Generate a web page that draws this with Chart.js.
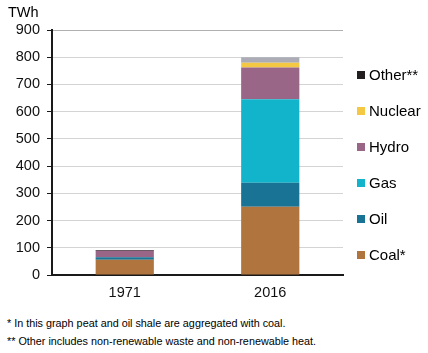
<!DOCTYPE html>
<html>
<head>
<meta charset="utf-8">
<script src="https://cdn.jsdelivr.net/npm/chart.js@4/dist/chart.umd.min.js"></script>
<style>
  body { margin: 0; background: #fff; font-family: "Liberation Sans", Arial, sans-serif; color: #000; }
  #wrap { position: relative; width: 428px; height: 353px; }
  #chart { position: absolute; left: 0; top: 0; }
  .unit { position: absolute; left: 8px; top: 4px; font-size: 14.5px; }
  .legend { position: absolute; left: 357px; font-size: 15px; line-height: 18px; white-space: nowrap; }
  .legend i { display: inline-block; width: 8px; height: 8px; margin-right: 4px; vertical-align: 1px; }
  .note { position: absolute; left: 7px; font-size: 10.8px; white-space: nowrap; }
</style>
</head>
<body>
<div id="wrap">
  <canvas id="chart" width="428" height="300"></canvas>
  <div class="unit">TWh</div>
  <div id="legend"></div>
  <div class="note" style="top:317px">* In this graph peat and oil shale are aggregated with coal.</div>
  <div class="note" style="top:335px">** Other includes non-renewable waste and non-renewable heat.</div>
</div>
<script>
// Данные (TWh)
const years = ['1971', '2016'];
const sources = ['Coal*', 'Oil', 'Gas', 'Hydro', 'Nuclear', 'Other**'];
const coal = [56, 251];
const oil = [9, 88];
const gas = [0, 307];
const hydro = [24, 116];
const nuclear = [0, 18];
const other = [3, 20];

const colors = ['#b0743e', '#187394', '#12b4cb', '#996688', '#f5c843', '#231f20'];
const values = [coal, oil, gas, hydro, nuclear, other];

const datasets = sources.map(function(name, i) {
    return {
        label: name,
        data: values[i],
        // у "Other" в 2016 серый цвет
        backgroundColor: name === 'Other**' ? ['#231f20', '#acacb6'] : colors[i],
        barPercentage: 0.4,
        categoryPercentage: 1
    };
});

// Легенда справа, сверху вниз в обратном порядке
const legendTop = [66, 102, 138, 174, 210, 246];
const legendEl = document.getElementById('legend');
sources.slice().reverse().forEach(function(name, k) {
    const idx = sources.length - 1 - k;
    const d = document.createElement('div');
    d.className = 'legend';
    d.style.top = legendTop[k] + 'px';
    d.innerHTML = '<i style="background:' + colors[idx] + '"></i>' + name;
    legendEl.appendChild(d);
});

new Chart(document.getElementById('chart').getContext('2d'), {
    type: 'bar',
    data: { labels: years, datasets: datasets },
    options: {
        responsive: false,
        animation: false,
        devicePixelRatio: 1,
        layout: { padding: { top: 30, right: 85, left: 0, bottom: 0 } },
        plugins: { legend: { display: false }, tooltip: { enabled: false } },
        scales: {
            x: {
                stacked: true,
                afterFit: function(scale) { scale.height = 25; },
                grid: {
                    drawTicks: false,
                    color: function(ctx) { return ctx.index === 2 ? '#b0b0b0' : 'rgba(0,0,0,0)'; }
                },
                border: { color: '#1a1a1a', width: 2 },
                ticks: { color: '#111', padding: 9, font: { family: 'Liberation Sans', size: 14.5 } }
            },
            y: {
                stacked: true,
                min: 0,
                max: 900,
                afterFit: function(scale) { scale.width = 52; },
                grid: {
                    color: function(ctx) { return ctx.tick && ctx.tick.value === 900 ? '#b0b0b0' : '#d4d4d4'; },
                    tickColor: '#1a1a1a',
                    tickLength: 5
                },
                border: { color: '#1a1a1a', width: 2 },
                ticks: { stepSize: 100, color: '#111', padding: 7, font: { family: 'Liberation Sans', size: 14.5 } }
            }
        }
    }
});
</script>
</body>
</html>
